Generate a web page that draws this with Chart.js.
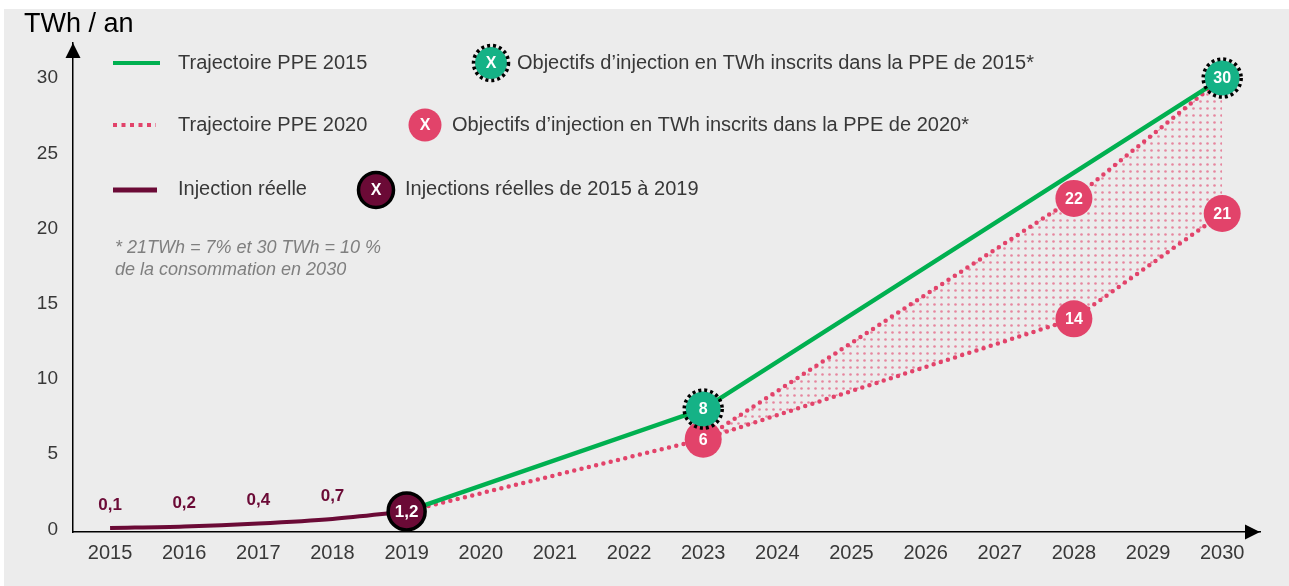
<!DOCTYPE html>
<html>
<head>
<meta charset="utf-8">
<script src="https://cdn.jsdelivr.net/npm/chart.js@4.4.0/dist/chart.umd.min.js"></script>
<style>
  html, body { margin: 0; padding: 0; background: #fff; }
  canvas { display: block; }
</style>
</head>
<body>
<canvas id="injectionChart" width="1289" height="586"></canvas>
<script>
// Données (TWh / an)
const years = [2015, 2016, 2017, 2018, 2019, 2020, 2021, 2022, 2023, 2024, 2025, 2026, 2027, 2028, 2029, 2030];
const yTicks = [0, 5, 10, 15, 20, 25, 30];

const realYears = [2015, 2016, 2017, 2018, 2019];
const realValues = [0.1, 0.2, 0.4, 0.7, 1.2];

const ppe2015Years = [2019, 2023, 2030];
const ppe2015Values = [1.2, 8, 30];

const ppe2020HighYears = [2023, 2028, 2030];
const ppe2020HighValues = [6, 22, 30];
const ppe2020LowYears = [2019, 2023, 2028, 2030];
const ppe2020LowValues = [1.2, 6, 14, 21];

const target2015Years = [2023, 2030];
const target2015Values = [8, 30];
const target2020Years = [2023, 2028, 2028, 2030];
const target2020Values = [6, 22, 14, 21];

const GREEN = '#00b050';
const TEAL = '#15b286';
const PINK = '#e2436a';
const MAROON = '#6b0a36';
const TEXT = '#383838';
const FONT = '"Liberation Sans", Arial, sans-serif';

function points(xs, ys) {
    return xs.map((x, i) => ({ x: x, y: ys[i] }));
}

function fr(v) {
    return String(v).replace('.', ',');
}

// motif de points roses pour la zone entre les deux trajectoires 2020
function dotPattern() {
    const c = document.createElement('canvas');
    c.width = 7; c.height = 7;
    const g = c.getContext('2d');
    g.fillStyle = 'rgba(226, 67, 106, 0.6)';
    g.beginPath();
    g.arc(3.5, 3.5, 1.3, 0, Math.PI * 2);
    g.fill();
    return g.createPattern(c, 'repeat');
}

function drawBadge(ctx, x, y, r, fill, label, opts) {
    ctx.save();
    ctx.beginPath();
    ctx.arc(x, y, r, 0, Math.PI * 2);
    ctx.fillStyle = fill;
    ctx.fill();
    if (opts && opts.dashed) {
        ctx.beginPath();
        ctx.setLineDash([3, 3]);
        ctx.lineWidth = 3.5;
        ctx.strokeStyle = '#000';
        ctx.arc(x, y, r + 1.5, 0, Math.PI * 2);
        ctx.stroke();
        ctx.setLineDash([]);
    }
    if (opts && opts.ring) {
        ctx.beginPath();
        ctx.lineWidth = 3.5;
        ctx.strokeStyle = '#000';
        ctx.arc(x, y, r, 0, Math.PI * 2);
        ctx.stroke();
    }
    ctx.fillStyle = '#fff';
    ctx.font = 'bold ' + ((opts && opts.size) || 16) + 'px ' + FONT;
    ctx.textAlign = 'center';
    ctx.textBaseline = 'middle';
    ctx.fillText(label, x, y + 1);
    ctx.restore();
}

const background = {
    id: 'background',
    beforeDraw(chart) {
        const ctx = chart.ctx;
        ctx.save();
        ctx.fillStyle = '#ececec';
        ctx.fillRect(4, 9, chart.width - 4, chart.height - 9);
        ctx.restore();
    }
};

const arrows = {
    id: 'arrows',
    afterDraw(chart) {
        const a = chart.chartArea;
        const ctx = chart.ctx;
        ctx.save();
        ctx.fillStyle = '#000';
        ctx.beginPath();
        ctx.moveTo(a.left, a.top);
        ctx.lineTo(a.left - 7.5, a.top + 15);
        ctx.lineTo(a.left + 7.5, a.top + 15);
        ctx.closePath();
        ctx.fill();
        ctx.beginPath();
        ctx.moveTo(a.right, a.bottom);
        ctx.lineTo(a.right - 15, a.bottom - 7.5);
        ctx.lineTo(a.right - 15, a.bottom + 7.5);
        ctx.closePath();
        ctx.fill();
        ctx.restore();
    }
};

// pastilles et étiquettes de valeurs
const markerLabels = {
    id: 'markerLabels',
    afterDatasetsDraw(chart) {
        const ctx = chart.ctx;
        chart.getDatasetMeta(2).data.forEach((pt, i) => {
            drawBadge(ctx, pt.x, pt.y, 18.5, PINK, fr(target2020Values[i]));
        });
        chart.getDatasetMeta(1).data.forEach((pt, i) => {
            drawBadge(ctx, pt.x, pt.y, 17.5, TEAL, fr(target2015Values[i]), { dashed: true });
        });
        chart.getDatasetMeta(0).data.forEach(pt => {
            drawBadge(ctx, pt.x, pt.y, 18.5, MAROON, fr(realValues[realValues.length - 1]), { ring: true, size: 17 });
        });
        ctx.save();
        ctx.fillStyle = MAROON;
        ctx.font = 'bold 17px ' + FONT;
        ctx.textAlign = 'center';
        ctx.textBaseline = 'middle';
        chart.getDatasetMeta(3).data.forEach((pt, i) => {
            if (i < realValues.length - 1) ctx.fillText(fr(realValues[i]), pt.x, pt.y - 23);
        });
        ctx.restore();
    }
};

const customLegend = {
    id: 'customLegend',
    afterDraw(chart) {
        const ctx = chart.ctx;
        ctx.save();
        ctx.fillStyle = '#000';
        ctx.font = '27px ' + FONT;
        ctx.textBaseline = 'alphabetic';
        ctx.fillText('TWh / an', 24, 32);

        ctx.lineWidth = 4;
        ctx.strokeStyle = GREEN;
        ctx.beginPath(); ctx.moveTo(113, 63); ctx.lineTo(160, 63); ctx.stroke();
        ctx.strokeStyle = PINK;
        ctx.setLineDash([4, 4.5]);
        ctx.beginPath(); ctx.moveTo(113, 125); ctx.lineTo(156, 125); ctx.stroke();
        ctx.setLineDash([]);
        ctx.lineWidth = 5;
        ctx.strokeStyle = MAROON;
        ctx.beginPath(); ctx.moveTo(113, 190); ctx.lineTo(157, 190); ctx.stroke();

        ctx.fillStyle = TEXT;
        ctx.font = '20px ' + FONT;
        ctx.textBaseline = 'middle';
        ctx.fillText('Trajectoire PPE 2015', 178, 63);
        ctx.fillText('Trajectoire PPE 2020', 178, 125);
        ctx.fillText('Injection réelle', 178, 189);
        ctx.fillText('Objectifs d’injection en TWh inscrits dans la PPE de 2015*', 517, 63);
        ctx.fillText('Objectifs d’injection en TWh inscrits dans la PPE de 2020*', 452, 125);
        ctx.fillText('Injections réelles de 2015 à 2019', 405, 189);

        ctx.fillStyle = '#7f7f7f';
        ctx.font = 'italic 18px ' + FONT;
        ctx.fillText('* 21TWh = 7% et 30 TWh = 10 %', 115, 248);
        ctx.fillText('de la consommation en 2030', 115, 270);
        ctx.restore();

        drawBadge(ctx, 491, 63, 16, TEAL, 'X', { dashed: true, size: 16 });
        drawBadge(ctx, 425, 125, 16.5, PINK, 'X', { size: 16 });
        drawBadge(ctx, 376, 190, 17.5, MAROON, 'X', { ring: true, size: 16 });
    }
};

const ctx = document.getElementById('injectionChart').getContext('2d');
const injectionChart = new Chart(ctx, {
    type: 'line',
    data: {
        datasets: [
            {   // injection réelle 2019 (pastille)
                data: points([realYears[realYears.length - 1]], [realValues[realValues.length - 1]]),
                showLine: false, pointRadius: 0
            },
            {   // objectifs PPE 2015
                data: points(target2015Years, target2015Values),
                showLine: false, pointRadius: 0
            },
            {   // objectifs PPE 2020
                data: points(target2020Years, target2020Values),
                showLine: false, pointRadius: 0
            },
            {
                label: 'Injection réelle',
                data: points(realYears, realValues),
                borderColor: MAROON,
                borderWidth: 4,
                cubicInterpolationMode: 'monotone',
                pointRadius: 0
            },
            {
                label: 'Trajectoire PPE 2015',
                data: points(ppe2015Years, ppe2015Values),
                borderColor: GREEN,
                borderWidth: 4.5,
                pointRadius: 0
            },
            {
                label: 'Trajectoire PPE 2020 haute',
                data: points(ppe2020HighYears, ppe2020HighValues),
                borderColor: PINK,
                borderWidth: 4.5,
                borderDash: [0, 7.5],
                borderCapStyle: 'round',
                backgroundColor: dotPattern(),
                fill: '+1',
                pointRadius: 0
            },
            {
                label: 'Trajectoire PPE 2020 basse',
                data: points(ppe2020LowYears, ppe2020LowValues),
                borderColor: PINK,
                borderWidth: 4.5,
                borderDash: [0, 7.5],
                borderCapStyle: 'round',
                pointRadius: 0
            }
        ]
    },
    options: {
        responsive: false,
        animation: false,
        devicePixelRatio: 1,
        layout: { padding: { top: 43, right: 29, left: 0, bottom: 0 } },
        plugins: {
            legend: { display: false },
            tooltip: { enabled: false },
            filler: { drawTime: 'beforeDatasetsDraw' }
        },
        scales: {
            x: {
                type: 'linear',
                min: 2014.5,
                max: 2030.51,
                afterBuildTicks: s => { s.ticks = years.map(v => ({ value: v })); },
                afterFit: s => { s.height = 54; },
                grid: { display: false, drawTicks: false },
                border: { display: true, color: '#000', width: 1.5 },
                ticks: {
                    autoSkip: false,
                    maxRotation: 0,
                    padding: 9,
                    color: TEXT,
                    font: { family: FONT, size: 20 },
                    callback: v => String(v)
                }
            },
            y: {
                min: -0.17,
                max: 32.33,
                afterBuildTicks: s => { s.ticks = yTicks.map(v => ({ value: v })); },
                afterFit: s => { s.width = 73; },
                grid: { display: false, drawTicks: false },
                border: { display: true, color: '#000', width: 1.5 },
                ticks: {
                    padding: 15,
                    color: TEXT,
                    font: { family: FONT, size: 19 },
                    callback: v => String(v)
                }
            }
        }
    },
    plugins: [background, arrows, markerLabels, customLegend]
});
</script>
</body>
</html>
